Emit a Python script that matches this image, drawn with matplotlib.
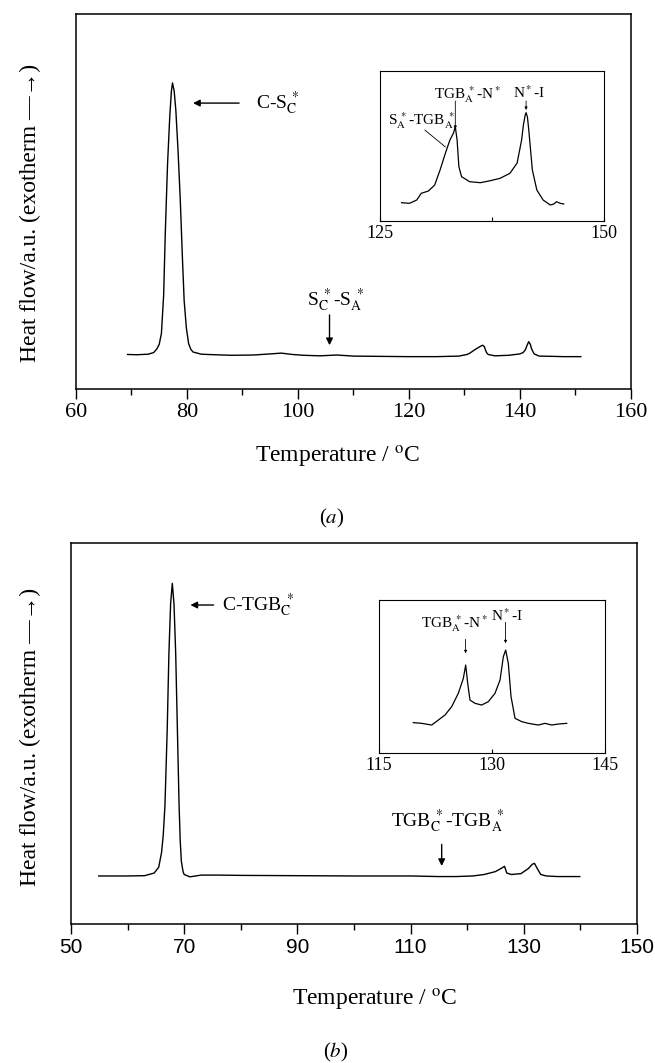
import numpy as np
import matplotlib
matplotlib.use('Agg')
import matplotlib.pyplot as plt
from matplotlib.ticker import MultipleLocator

plt.rcParams['font.family'] = ['Liberation Serif', 'DejaVu Serif']
plt.rcParams['mathtext.fontset'] = 'stix'

# panel (a) main DSC trace
temp_a = [69.3, 71, 73, 74, 74.6, 75.0, 75.4, 75.8, 76.1, 76.5, 76.9, 77.2, 77.4, 77.7, 78.0,
          78.4, 78.8, 79.2, 79.5, 79.9, 80.3, 80.7, 81.1, 82.6,
          85, 88, 92, 95, 97, 99, 101, 104, 107, 110, 115, 120, 125, 129, 130.5, 131, 131.5,
          132, 132.5, 133, 133.3, 133.6, 133.8, 134.0, 134.3, 135.5, 138, 140, 140.6, 141,
          141.3, 141.6, 141.9, 142.1, 142.4, 142.6, 143.5, 146, 148, 151]
flow_a = [0.3, 0.2, 0.4, 1.0, 2.4, 4, 8, 22, 45, 70, 87.5, 97, 100, 97, 90,
          75, 57, 35, 20, 10, 4.3, 2.2, 1.2, 0.4,
          0.2, 0.0, 0.1, 0.5, 0.8, 0.3, 0.0, -0.2, 0.1, -0.3, -0.4, -0.5, -0.5, -0.3, 0.3, 0.8, 1.5,
          2.2, 2.8, 3.4, 3.7, 3.2, 2.0, 1.0, 0.3, -0.2, 0.0, 0.5, 1.0, 2.0,
          3.6, 5.0, 4.0, 2.5, 1.2, 0.5, -0.3, -0.4, -0.5, -0.5]

# panel (a) inset
temp_ai = [127.4, 128.3, 129.1, 129.6, 130.4, 131.1, 131.7, 132.3, 132.8, 133.2, 133.4, 133.6,
           133.8, 134.1, 135.0, 136.2, 137.3, 138.4, 139.5, 140.3, 140.8, 141.0, 141.2, 141.3,
           141.45, 141.6, 141.8, 142.0, 142.5, 143.2, 144.0, 144.4, 144.7, 145.1, 145.5]
flow_ai = [2.3, 1.7, 5, 11.7, 14, 20, 35, 52, 65, 72, 78.3, 65,
           38.3, 28.3, 23.3, 22.3, 24.3, 26.7, 31.7, 42, 65, 80, 90, 92.3,
           88, 75, 55, 35, 15, 5, 0, 1, 3.3, 1.7, 1]

# panel (b) main DSC trace
temp_b = [54.9, 60, 63, 64.7, 65.5, 66.0, 66.3, 66.6, 67.0, 67.3, 67.6, 67.9, 68.2, 68.5, 68.8,
          69.1, 69.3, 69.5, 69.8, 70.0, 71, 73, 76,
          80, 90, 100, 110, 115, 118, 121, 123, 125, 126.2, 126.6, 127.0, 127.8, 129.5, 130.8,
          131.5, 131.9, 132.4, 133, 134, 136, 139.9]
flow_b = [0, 0, 0.1, 1.0, 3, 8, 14, 24, 50, 76, 93, 100, 93, 76, 50,
          24, 12, 5, 1.5, 0.5, -0.3, 0.3, 0.3,
          0.2, 0.1, 0.0, 0.0, -0.2, -0.2, 0.0, 0.5, 1.5, 2.8, 3.3, 1.0, 0.5, 0.8, 2.5,
          4.0, 4.3, 2.5, 0.5, 0.0, -0.2, -0.2]

# panel (b) inset
temp_bi = [119.56, 120.67, 122.0, 122.88, 123.76, 124.65, 125.53, 126.2, 126.51, 126.78, 127.08,
           127.75, 128.63, 129.52, 130.4, 131.07, 131.51, 131.82, 132.17, 132.53, 133.06, 133.95,
           134.83, 136.16, 137.04, 137.93, 138.81, 139.92]
flow_bi = [0.7, 0, -1.7, 3.3, 8.3, 16.7, 30, 45, 58.3, 40, 23.3,
           20, 18.3, 21.7, 30, 43.3, 66.7, 73.3, 60, 26.7, 5, 1.7,
           0, -1.7, 0, -1.7, -0.7, 0]

ylab = 'Heat flow/a.u. (exotherm \u2014\u2192)'
xlab = 'Temperature / $^{\\rm o}$C'
arrow = dict(arrowstyle='-|>', color='k', lw=1.0, mutation_scale=10, shrinkA=0, shrinkB=0)
thin = dict(arrowstyle='-|>', color='k', lw=0.6, mutation_scale=4, shrinkA=0, shrinkB=0)
line = dict(arrowstyle='-', color='k', lw=0.6, shrinkA=0, shrinkB=0)

fig = plt.figure(figsize=(6.55, 10.63), dpi=100)

def main_axes(rect, x, y, xlim, ylim, ticks, tickfont):
    ax = fig.add_axes(rect)
    ax.plot(x, y, color='k', lw=1.0)
    ax.set_xlim(*xlim)
    ax.set_ylim(*ylim)
    ax.set_xticks(ticks)
    ax.xaxis.set_minor_locator(MultipleLocator(10))
    ax.set_yticks([])
    ax.tick_params(axis='x', which='major', direction='out', length=7, width=1, pad=3, labelsize=16)
    ax.tick_params(axis='x', which='minor', direction='out', length=4, width=1)
    for lbl in ax.get_xticklabels():
        lbl.set_family(tickfont)
    for s in ax.spines.values():
        s.set_linewidth(1.1)
    return ax

def inset_axes(rect, x, y, xlim, ylim, ticks, minor=None):
    ax = fig.add_axes(rect)
    ax.plot(x, y, color='k', lw=0.9)
    ax.set_xlim(*xlim)
    ax.set_ylim(*ylim)
    ax.set_xticks(ticks)
    if minor:
        ax.set_xticks(minor, minor=True)
    ax.set_yticks([])
    ax.tick_params(axis='x', which='both', direction='in', length=3, width=0.8, pad=3, labelsize=13)
    for s in ax.spines.values():
        s.set_linewidth(0.8)
    return ax

# (a)
ax = main_axes([0.116, 0.634, 0.847, 0.3528], temp_a, flow_a, (60, 160), (-12.4, 125.3),
               [60, 80, 100, 120, 140, 160], 'Liberation Serif')
ax.annotate('', xy=(81.1, 92.6), xytext=(89.4, 92.6), arrowprops=arrow)
ax.text(92.4, 92.6, 'C-S$_{\\rm C}^{\\ *}$', fontsize=14, va='center', ha='left')
ax.text(106.8, 20.2, 'S$_{\\rm C}^{\\ *}$-S$_{\\rm A}^{\\ *}$', fontsize=14, va='center', ha='center')
ax.annotate('', xy=(105.7, 3.7), xytext=(105.7, 14.8), arrowprops=arrow)

axi = inset_axes([0.5802, 0.7921, 0.342, 0.1411], temp_ai, flow_ai, (125, 150), (-16, 134),
                 [125, 150], [137.5])
axi.text(134.8, 110, 'TGB$_{\\rm A}^{\\ *}$-N$^*$', fontsize=11, ha='center', va='center')
axi.annotate('', xy=(133.4, 76), xytext=(133.4, 104), arrowprops=thin)
axi.text(141.6, 112, 'N$^*$-I', fontsize=11, ha='center', va='center')
axi.annotate('', xy=(141.3, 95), xytext=(141.3, 104), arrowprops=thin)
axi.text(129.6, 84, 'S$_{\\rm A}^{\\ *}$-TGB$_{\\rm A}^{\\ *}$', fontsize=11, ha='center', va='center')
axi.annotate('', xy=(132.3, 58), xytext=(130.0, 75), arrowprops=line)

fig.text(30 / 655, 0.80, ylab, rotation=90, fontsize=17, ha='center', va='center')
fig.text(338 / 655, 1 - 457 / 1063, xlab, fontsize=17, ha='center', va='center')
fig.text(332 / 655, 1 - 518 / 1063, '($a$)', fontsize=15, ha='center', va='center')

# (b)
bx = main_axes([0.1084, 0.1308, 0.864, 0.3584], temp_b, flow_b, (50, 150), (-16.4, 113.8),
               [50, 70, 90, 110, 130, 150], 'Liberation Sans')
bx.tick_params(axis='x', which='major', labelsize=15)
bx.annotate('', xy=(71.1, 92.6), xytext=(75.2, 92.6), arrowprops=arrow)
bx.text(76.7, 92.6, 'C-TGB$_{\\rm C}^{\\ *}$', fontsize=14, va='center', ha='left')
bx.text(116.6, 18.7, 'TGB$_{\\rm C}^{\\ *}$-TGB$_{\\rm A}^{\\ *}$', fontsize=14, va='center', ha='center')
bx.annotate('', xy=(115.5, 3.4), xytext=(115.5, 10.8), arrowprops=arrow)

bxi = inset_axes([0.5786, 0.2916, 0.345, 0.1439], temp_bi, flow_bi, (115, 145), (-29.7, 123.3),
                 [115, 130, 145])
bxi.text(125.0, 100, 'TGB$_{\\rm A}^{\\ *}$-N$^*$', fontsize=11, ha='center', va='center')
bxi.annotate('', xy=(126.5, 70), xytext=(126.5, 84), arrowprops=thin)
bxi.text(132.0, 108, 'N$^*$-I', fontsize=11, ha='center', va='center')
bxi.annotate('', xy=(131.8, 80), xytext=(131.8, 101), arrowprops=thin)

fig.text(30 / 655, 0.307, ylab, rotation=90, fontsize=17, ha='center', va='center')
fig.text(375 / 655, 1 - 1000 / 1063, xlab, fontsize=17, ha='center', va='center')
fig.text(336 / 655, 1 - 1052 / 1063, '($b$)', fontsize=15, ha='center', va='center')

fig.savefig('out.png', dpi=100)
